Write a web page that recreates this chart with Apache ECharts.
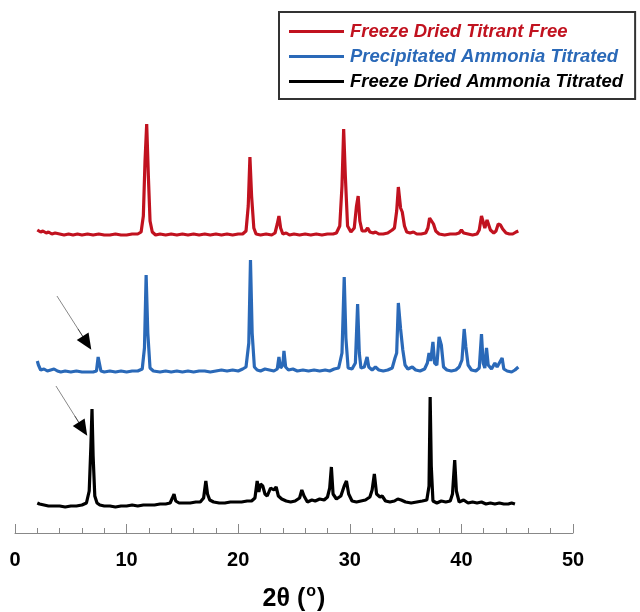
<!DOCTYPE html>
<html><head><meta charset="utf-8">
<script src="https://cdn.jsdelivr.net/npm/echarts@6/dist/echarts.min.js"></script>
<style>html,body{margin:0;padding:0;background:#fff}#c{width:640px;height:612px}</style>
</head><body><div id="c"></div>
<script>
const seriesNames = ['Freeze Dried Titrant Free','Precipitated Ammonia Titrated','Freeze Dried Ammonia Titrated'];
const xTicks = [0,10,20,30,40,50];
// [2theta, intensity above own baseline]
const redPattern = [[2.0,6],[2.1,8],[2.3,4],[2.5,5],[2.8,3],[3.0,4],[3.3,2],[3.6,3],[4.0,2],[4.4,1],[4.8,2],[5.2,1],[5.6,2],[6.0,1],[6.5,2],[7.0,1],[7.5,2],[8.0,1],[8.5,1],[9.0,2],[9.5,1],[10.0,1],[10.5,2],[11.0,2],[11.3,4],[11.5,20],[11.65,75],[11.8,112],[11.95,60],[12.1,15],[12.3,4],[12.6,1],[13.0,2],[13.5,1],[14.0,2],[14.5,1],[15.0,2],[15.5,1],[16.0,2],[16.5,1],[17.0,2],[17.5,1],[18.0,2],[18.5,1],[19.0,2],[19.5,1],[20.0,2],[20.4,2],[20.7,5],[20.9,30],[21.05,79],[21.2,40],[21.4,8],[21.6,2],[22.0,1],[22.5,2],[23.0,1],[23.3,3],[23.5,12],[23.65,20],[23.8,8],[24.0,2],[24.3,3],[24.6,1],[25.0,2],[25.5,1],[26.0,2],[26.5,1],[27.0,2],[27.5,1],[28.0,2],[28.5,2],[28.8,3],[29.1,10],[29.3,50],[29.45,107],[29.6,60],[29.8,10],[30.1,4],[30.4,8],[30.6,30],[30.75,40],[30.9,15],[31.1,5],[31.4,5],[31.6,8],[31.8,4],[32.1,3],[32.3,4],[32.6,2],[33.0,2],[33.4,3],[33.8,6],[34.0,8],[34.2,25],[34.35,49],[34.55,28],[34.7,24],[34.9,10],[35.1,4],[35.4,3],[35.7,4],[36.0,2],[36.4,2],[36.8,3],[37.0,8],[37.15,18],[37.3,19],[37.5,12],[37.7,5],[38.0,2],[38.5,1],[39.0,2],[39.5,2],[39.8,3],[40.0,6],[40.2,3],[40.6,2],[41.0,1],[41.4,2],[41.6,6],[41.8,20],[41.95,21],[42.1,8],[42.3,16],[42.45,17],[42.6,6],[42.9,3],[43.1,5],[43.3,12],[43.5,11],[43.7,7],[43.85,8],[44.0,3],[44.3,2],[44.6,2],[44.9,4],[45.1,5]];
const bluePattern = [[2.0,12],[2.1,8],[2.3,3],[2.6,4],[2.9,2],[3.2,3],[3.5,4],[3.8,2],[4.1,1],[4.5,2],[5.0,1],[5.5,2],[6.0,1],[6.5,1],[7.0,1],[7.3,2],[7.45,16],[7.55,17],[7.7,2],[8.0,1],[8.5,2],[9.0,1],[9.5,2],[10.0,1],[10.5,2],[11.0,2],[11.4,4],[11.6,25],[11.75,98],[11.9,40],[12.1,5],[12.4,2],[13.0,1],[13.5,2],[14.0,1],[14.5,2],[15.0,1],[15.5,2],[16.0,1],[16.5,2],[17.0,2],[17.5,1],[18.0,2],[18.5,3],[19.0,2],[19.5,3],[20.0,2],[20.4,4],[20.7,6],[20.95,30],[21.1,113],[21.25,40],[21.45,6],[21.7,3],[22.0,2],[22.4,4],[22.8,3],[23.2,2],[23.5,4],[23.65,16],[23.8,5],[24.0,8],[24.1,22],[24.25,6],[24.5,3],[24.9,4],[25.3,2],[25.8,3],[26.3,2],[26.8,3],[27.3,2],[27.8,3],[28.2,2],[28.6,4],[29.0,5],[29.3,20],[29.5,96],[29.65,35],[29.85,5],[30.2,4],[30.5,10],[30.7,69],[30.85,20],[31.0,5],[31.3,6],[31.55,16],[31.7,6],[32.0,3],[32.3,6],[32.6,3],[33.0,2],[33.4,3],[33.8,5],[34.05,15],[34.2,20],[34.35,70],[34.55,44],[34.75,23],[34.95,8],[35.2,4],[35.6,6],[35.9,3],[36.3,2],[36.7,4],[36.95,10],[37.1,20],[37.25,12],[37.45,31],[37.6,10],[37.8,8],[38.0,36],[38.2,28],[38.4,6],[38.7,3],[39.1,2],[39.5,3],[39.8,6],[40.05,13],[40.25,44],[40.4,26],[40.6,8],[40.9,3],[41.3,2],[41.6,5],[41.8,39],[41.95,10],[42.1,5],[42.25,25],[42.4,8],[42.7,4],[43.0,10],[43.2,6],[43.5,12],[43.65,15],[43.8,4],[44.1,2],[44.5,1],[44.8,3],[45.1,6]];
const blackPattern = [[2.0,3],[2.2,2],[2.6,1],[3.0,0],[3.5,0],[4.0,0],[4.5,-1],[5.0,0],[5.5,0],[6.0,1],[6.4,3],[6.65,15],[6.8,60],[6.9,97],[7.0,50],[7.15,10],[7.35,3],[7.6,1],[8.0,0],[8.5,0],[9.0,-1],[9.5,0],[10.0,0],[10.5,1],[11.0,0],[11.5,1],[12.0,1],[12.5,1],[13.0,2],[13.5,2],[13.9,3],[14.1,8],[14.25,12],[14.4,5],[14.7,3],[15.2,3],[15.7,3],[16.2,4],[16.6,4],[16.9,8],[17.1,25],[17.25,12],[17.45,6],[17.8,4],[18.3,3],[18.8,3],[19.3,4],[19.8,4],[20.3,4],[20.8,5],[21.2,5],[21.5,8],[21.7,25],[21.85,14],[22.0,22],[22.2,20],[22.4,12],[22.6,10],[22.9,18],[23.2,16],[23.4,19],[23.6,10],[23.9,7],[24.3,5],[24.7,4],[25.1,5],[25.5,8],[25.7,16],[25.9,10],[26.2,4],[26.6,6],[26.9,5],[27.3,7],[27.7,6],[28.0,9],[28.2,18],[28.35,39],[28.5,12],[28.8,7],[29.2,10],[29.5,20],[29.7,25],[29.9,12],[30.2,5],[30.6,4],[31.0,5],[31.4,6],[31.8,9],[32.0,16],[32.2,32],[32.4,12],[32.7,9],[32.9,10],[33.2,5],[33.6,4],[34.0,5],[34.3,7],[34.6,6],[35.0,4],[35.5,3],[36.0,4],[36.5,5],[36.9,6],[37.1,20],[37.2,109],[37.3,40],[37.45,5],[37.8,3],[38.2,5],[38.6,4],[39.0,5],[39.2,12],[39.4,46],[39.55,15],[39.8,4],[40.2,6],[40.6,3],[41.0,4],[41.4,3],[41.8,4],[42.2,2],[42.6,3],[43.0,2],[43.4,3],[43.8,2],[44.2,2],[44.5,3],[44.8,2]];
// vertical stacking offsets of the three patterns
const offsets = [297, 160, 27];
// annotation arrows [[x0,y0],[x1,y1]] in chart units
const arrowBlue = [[3.76,237],[6.45,190]];
const arrowBlack = [[3.67,147],[6.09,104]];
const colors = ['#c1121f','#2a69b8','#000000'];

const patterns = [redPattern, bluePattern, blackPattern];
function arrowMark(a){
  const [p0,p1] = a;
  const t = 0.7;
  const mid = [p0[0]+(p1[0]-p0[0])*t, p0[1]+(p1[1]-p0[1])*t];
  return {
    silent:true, animation:false,
    label:{show:false},
    emphasis:{disabled:true},
    data:[
      [{coord:p0, symbol:'none', lineStyle:{color:'#888',width:1,type:'solid'}},{coord:p1, symbol:'none'}],
      [{coord:mid, symbol:'none', lineStyle:{color:'#000',width:0.5,type:'solid'}},{coord:p1, symbol:'triangle', symbolSize:[14,16]}]
    ]
  };
}
const series = patterns.map((p,i)=>({
  name: seriesNames[i],
  type:'line',
  showSymbol:false,
  data: p.map(d=>[d[0], d[1]+offsets[i]]),
  lineStyle:{color:colors[i], width:3.2},
  itemStyle:{color:colors[i]},
  z: 3-i,
  markLine: i===1 ? arrowMark(arrowBlue) : (i===2 ? arrowMark(arrowBlack) : undefined)
}));

const chart = echarts.init(document.getElementById('c'));
chart.setOption({
  animation:false,
  grid:{left:15, right:67, top:98, bottom:79, outerBoundsMode:'none', containLabel:false},
  legend:{
    left:279, top:12, orient:'vertical',
    icon:'rect', itemWidth:55, itemHeight:3, itemGap:6,
    padding:[10,12,8,10],
    borderColor:'#333', borderWidth:2,
    data: seriesNames.map((n,i)=>({name:n, textStyle:{color:colors[i]}})),
    textStyle:{fontFamily:'Liberation Sans, Arial', fontSize:18.5, fontWeight:'bold', fontStyle:'italic', lineHeight:19, padding:[0,0,0,1]}
  },
  xAxis:{
    type:'value', min:xTicks[0], max:xTicks[xTicks.length-1], interval:10,
    axisLine:{lineStyle:{color:'#888', width:1}},
    axisTick:{inside:true, length:9, lineStyle:{color:'#888'}},
    minorTick:{show:true, splitNumber:5, length:5, lineStyle:{color:'#888'}},
    splitLine:{show:false},
    axisLabel:{margin:17, color:'#000', fontFamily:'Liberation Sans, Arial', fontSize:20, fontWeight:'bold'},
    name:'2θ ({s|o})', nameLocation:'middle', nameGap:51,
    nameTextStyle:{color:'#000', fontFamily:'Liberation Sans, Arial', fontSize:25, fontWeight:'bold',
      rich:{s:{fontSize:16, fontWeight:'bold', fontFamily:'Liberation Sans, Arial', color:'#000', verticalAlign:'top', padding:[0,1,14,1]}}}
  },
  yAxis:{type:'value', min:0, max:435, show:false},
  series: series
});
</script></body></html>
